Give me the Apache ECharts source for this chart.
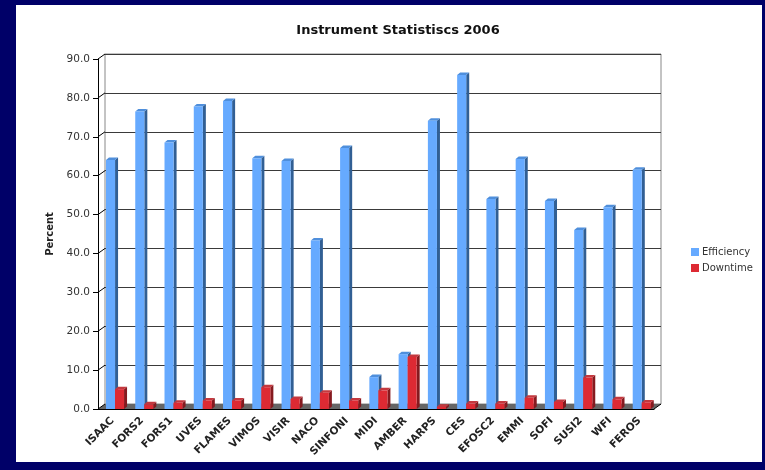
<!DOCTYPE html>
<html>
<head>
<meta charset="utf-8">
<script src="https://cdn.jsdelivr.net/npm/echarts@6/dist/echarts.min.js"></script>
<style>
  html, body { margin: 0; padding: 0; background: #000068; width: 765px; height: 470px; overflow: hidden; }
  #panel { position: absolute; left: 16px; top: 5px; width: 746px; height: 457px; background: #fff; }
  #chart { width: 746px; height: 457px; }
</style>
</head>
<body>
<div id="panel"><div id="chart"></div></div>
<script>
var categories = ['ISAAC', 'FORS2', 'FORS1', 'UVES', 'FLAMES', 'VIMOS', 'VISIR', 'NACO', 'SINFONI', 'MIDI',
    'AMBER', 'HARPS', 'CES', 'EFOSC2', 'EMMI', 'SOFI', 'SUSI2', 'WFI', 'FEROS'];
var efficiency = [64.0, 76.5, 68.5, 77.8, 79.2, 64.5, 63.8, 43.3, 67.1, 8.2,
    14.1, 74.1, 85.9, 54.0, 64.3, 53.5, 46.0, 51.9, 61.5];
var downtime = [5.1, 1.2, 1.6, 2.2, 2.2, 5.6, 2.6, 4.2, 2.2, 4.8,
    13.4, 0.6, 1.4, 1.4, 2.9, 1.8, 8.1, 2.5, 1.7];
var yTicks = [0, 10, 20, 30, 40, 50, 60, 70, 80, 90];

// depth of the back wall, and of each bar
var wallDx = 7, wallDy = 5;
var barDx = 3, barDy = 2.5;

function barRenderer(front, side, top, offset) {
    return function (params, api) {
        var idx = api.value(0);
        var base = api.coord([idx, 0]);
        var tp = api.coord([idx, api.value(1)]);
        var bw = api.size([1, 0])[0];
        var x = base[0] - bw / 2 + bw * offset;
        var w = bw * 0.31;
        return {
            type: 'group',
            children: [
                {type: 'polygon', shape: {points: [[x + w, tp[1]], [x + w + barDx, tp[1] - barDy], [x + w + barDx, base[1] - barDy], [x + w, base[1]]]}, style: {fill: side}},
                {type: 'polygon', shape: {points: [[x, tp[1]], [x + barDx, tp[1] - barDy], [x + w + barDx, tp[1] - barDy], [x + w, tp[1]]]}, style: {fill: top}},
                {type: 'rect', shape: {x: x, y: tp[1], width: w, height: base[1] - tp[1]}, style: {fill: front}}
            ]
        };
    };
}

// floor and the little slants joining the front axis to the back wall
function decorRenderer(params, api) {
    var bw = api.size([1, 0])[0];
    var first = api.coord([0, 0]);
    var last = api.coord([categories.length - 1, 0]);
    var x0 = first[0] - bw / 2, x1 = last[0] + bw / 2, y0 = first[1];
    var kids = [
        {type: 'polygon', shape: {points: [[x0, y0], [x1, y0], [x1 + wallDx, y0 - wallDy], [x0 + wallDx, y0 - wallDy]]}, style: {fill: '#666'}},
        {type: 'line', shape: {x1: x1, y1: y0, x2: x1 + wallDx, y2: y0 - wallDy}, style: {stroke: '#000', lineWidth: 1}}
    ];
    yTicks.forEach(function (v) {
        var y = api.coord([0, v])[1];
        kids.push({type: 'line', shape: {x1: x0, y1: y, x2: x0 + wallDx, y2: y - wallDy}, style: {stroke: '#000', lineWidth: 1}});
    });
    return {type: 'group', children: kids};
}

var myChart = echarts.init(document.getElementById('chart'));
var option = {
    animation: false,
    title: {
        text: 'Instrument Statistiscs 2006',
        left: 377, top: 14, textAlign: 'center',
        textStyle: {fontFamily: 'DejaVu Sans', fontSize: 13, fontWeight: 'bold', color: '#111'}
    },
    legend: {
        orient: 'vertical',
        left: 670, top: 237,
        itemWidth: 8, itemHeight: 8, itemGap: 6,
        icon: 'rect',
        textStyle: {fontFamily: 'DejaVu Sans', fontSize: 10, color: '#333', padding: [0, 0, 0, -2]},
        data: ['Efficiency', 'Downtime']
    },
    grid: [
        {left: 82, right: 108, top: 54, bottom: 53},
        {left: 82 + wallDx, right: 108 - wallDx, top: 54 - wallDy, bottom: 53 + wallDy,
            show: true, borderColor: '#888', borderWidth: 1, backgroundColor: 'transparent'}
    ],
    xAxis: [
        {
            type: 'category', gridIndex: 0, data: categories,
            axisLine: {lineStyle: {color: '#000', width: 1}},
            axisTick: {length: 5, lineStyle: {color: '#000'}},
            axisLabel: {
                rotate: 45, interval: 0, margin: 10,
                fontFamily: 'DejaVu Sans', fontSize: 10.5, fontWeight: 'bold', color: '#222'
            }
        },
        {type: 'category', gridIndex: 1, data: categories, show: false}
    ],
    yAxis: [
        {
            type: 'value', gridIndex: 0, min: 0, max: 90, interval: 10,
            name: 'Percent', nameLocation: 'middle', nameGap: 38, nameRotate: 90,
            nameTextStyle: {fontFamily: 'DejaVu Sans', fontSize: 10, fontWeight: 'bold', color: '#222'},
            axisLine: {show: true, lineStyle: {color: '#000', width: 1}},
            axisTick: {show: true, length: 5, lineStyle: {color: '#000'}},
            axisLabel: {
                margin: 8, fontFamily: 'DejaVu Sans', fontSize: 10.5, color: '#333',
                formatter: function (v) { return v.toFixed(1); }
            },
            splitLine: {show: false}
        },
        {
            type: 'value', gridIndex: 1, min: 0, max: 90, interval: 10,
            axisLine: {show: false}, axisTick: {show: false}, axisLabel: {show: false},
            splitLine: {show: true, lineStyle: {color: '#3a3a3a', width: 1}}
        }
    ],
    series: [
        {
            name: 'floor', type: 'custom', xAxisIndex: 0, yAxisIndex: 0, z: 1,
            renderItem: decorRenderer, data: [[0, 0]], silent: true
        },
        {
            name: 'Efficiency', type: 'custom', xAxisIndex: 0, yAxisIndex: 0, z: 3,
            itemStyle: {color: '#66aaff'},
            renderItem: barRenderer('#66aaff', '#315f94', '#4f8fdc', 0.273),
            data: efficiency.map(function (v, i) { return [i, v]; })
        },
        {
            name: 'Downtime', type: 'custom', xAxisIndex: 0, yAxisIndex: 0, z: 3,
            itemStyle: {color: '#dd2a33'},
            renderItem: barRenderer('#dd2a33', '#851a1f', '#c4383e', 0.58),
            data: downtime.map(function (v, i) { return [i, v]; })
        }
    ]
};
myChart.setOption(option);
</script>
</body>
</html>
